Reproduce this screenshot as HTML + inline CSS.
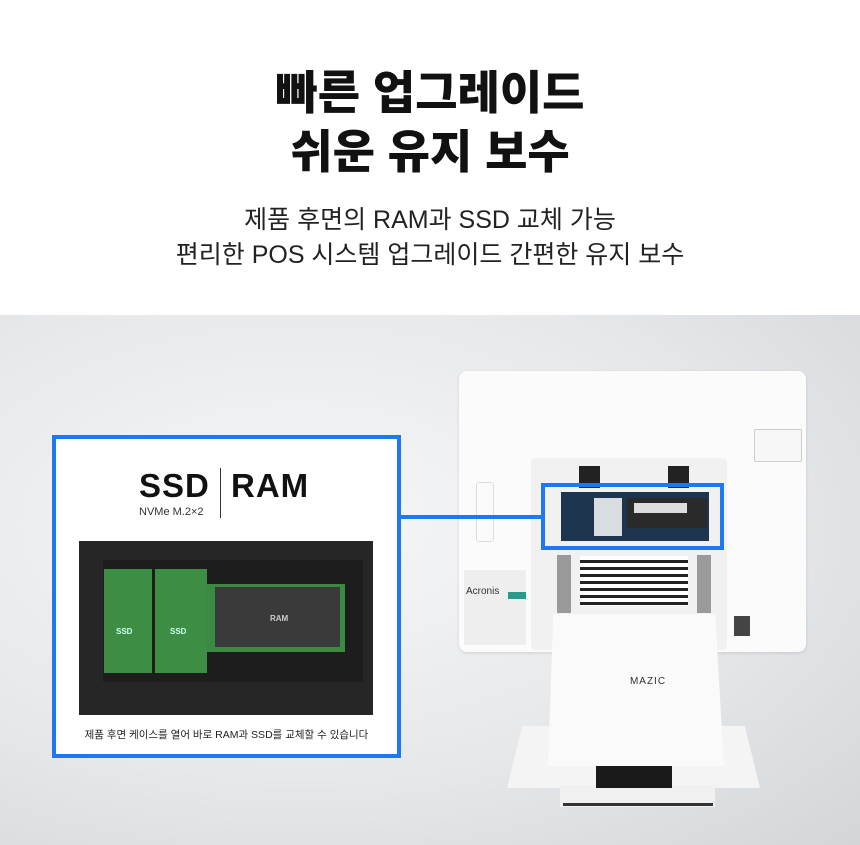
<!DOCTYPE html>
<html><head><meta charset="utf-8"><style>
*{margin:0;padding:0;box-sizing:border-box}
body{width:860px;height:845px;position:relative;overflow:hidden;background:#fff;font-family:"Liberation Sans","Noto Sans CJK KR",sans-serif}
.a{position:absolute}
.t{left:0;width:860px;text-align:center;color:#111}
</style></head><body>
<div class="a t" style="top:64px;font-size:46px;font-weight:900;line-height:59px">빠른 업그레이드<br>쉬운 유지 보수</div>
<div class="a t" style="top:203px;font-size:25px;line-height:35px;color:#222">제품 후면의 RAM과 SSD 교체 가능<br>편리한 POS 시스템 업그레이드 간편한 유지 보수</div>
<div class="a" style="left:0;top:315px;width:860px;height:530px;background:radial-gradient(ellipse at 35% 40%,#f6f7f8 0%,#e6e8ea 55%,#d3d6d9 100%)"></div>

<!-- monitor -->
<div class="a" style="left:459px;top:371px;width:347px;height:281px;background:#fbfbfb;border-radius:8px;box-shadow:0 1px 3px rgba(0,0,0,.12)"></div>
<div class="a" style="left:754px;top:429px;width:48px;height:33px;border:1px solid #ccc;border-radius:2px;background:#f7f7f7"></div>
<div class="a" style="left:476px;top:482px;width:18px;height:60px;border:1px solid #ddd;border-radius:3px"></div>
<div class="a" style="left:531px;top:458px;width:196px;height:192px;background:#f1f1f1;border-radius:4px"></div>
<div class="a" style="left:579px;top:466px;width:21px;height:22px;background:#222"></div>
<div class="a" style="left:668px;top:466px;width:21px;height:22px;background:#222"></div>
<div class="a" style="left:557px;top:555px;width:14px;height:58px;background:#9a9a9a"></div>
<div class="a" style="left:697px;top:555px;width:14px;height:58px;background:#9a9a9a"></div>
<div class="a" style="left:580px;top:556px;width:108px;height:50px;background:repeating-linear-gradient(#fff 0 4px,#222 4px 7px)"></div>
<div class="a" style="left:734px;top:616px;width:16px;height:20px;background:#444"></div>
<div class="a" style="left:464px;top:570px;width:62px;height:75px;background:#eee"></div>
<div class="a" style="left:466px;top:586px;font-size:10px;color:#333">Acronis</div>
<div class="a" style="left:508px;top:592px;width:18px;height:7px;background:#2a9a8a"></div>
<div class="a" style="left:561px;top:492px;width:148px;height:49px;background:#1e3550"></div>
<div class="a" style="left:594px;top:498px;width:28px;height:38px;background:#d8dde0"></div>
<div class="a" style="left:627px;top:498px;width:80px;height:30px;background:#2a2a2a"></div>
<div class="a" style="left:634px;top:503px;width:53px;height:10px;background:#ddd"></div>
<div class="a" style="left:541px;top:483px;width:183px;height:67px;border:4px solid #1f78f0"></div>
<div class="a" style="left:400px;top:515px;width:142px;height:4px;background:#1f78f0"></div>

<!-- stand -->
<div class="a" style="left:507px;top:726px;width:253px;height:62px;background:#f4f4f4;clip-path:polygon(6% 0,94% 0,100% 100%,0 100%)"></div>
<div class="a" style="left:560px;top:785px;width:155px;height:22px;background:#f0f0f0"></div>
<div class="a" style="left:563px;top:803px;width:150px;height:3px;background:#333"></div>
<div class="a" style="left:596px;top:766px;width:76px;height:22px;background:#1a1a1a"></div>
<div class="a" style="left:548px;top:614px;width:176px;height:152px;background:#fafafa;clip-path:polygon(3% 0,95% 0,100% 100%,0 100%);box-shadow:0 0 4px rgba(0,0,0,.1)"></div>
<div class="a" style="left:600px;top:676px;width:96px;text-align:center;font-size:10px;letter-spacing:1px;color:#333">MAZIC</div>

<!-- callout -->
<div class="a" style="left:52px;top:435px;width:349px;height:323px;background:#fff;border:4px solid #1f78f0"></div>
<div class="a" style="left:139px;top:467px;font-size:33px;font-weight:bold;color:#111;letter-spacing:1px">SSD</div>
<div class="a" style="left:220px;top:468px;width:1px;height:50px;background:#333"></div>
<div class="a" style="left:231px;top:467px;font-size:33px;font-weight:bold;color:#111;letter-spacing:1px">RAM</div>
<div class="a" style="left:139px;top:506px;font-size:11px;color:#333">NVMe M.2×2</div>
<div class="a" style="left:79px;top:541px;width:294px;height:174px;background:#262626"></div>
<div class="a" style="left:103px;top:560px;width:260px;height:122px;background:#1d1d1d"></div>
<div class="a" style="left:104px;top:569px;width:48px;height:104px;background:#3d8d45"></div>
<div class="a" style="left:155px;top:569px;width:52px;height:104px;background:#3d8d45"></div>
<div class="a" style="left:116px;top:627px;font-size:8px;font-weight:bold;color:#cfe">SSD</div>
<div class="a" style="left:170px;top:627px;font-size:8px;font-weight:bold;color:#cfe">SSD</div>
<div class="a" style="left:207px;top:584px;width:138px;height:68px;background:#3a8a42"></div>
<div class="a" style="left:215px;top:587px;width:125px;height:60px;background:#3a3a3a"></div>
<div class="a" style="left:270px;top:614px;font-size:8px;font-weight:bold;color:#ccc">RAM</div>
<div class="a" style="left:60px;width:333px;top:727px;text-align:center;font-size:10.5px;color:#222">제품 후면 케이스를 열어 바로 RAM과 SSD를 교체할 수 있습니다</div>
</body></html>
